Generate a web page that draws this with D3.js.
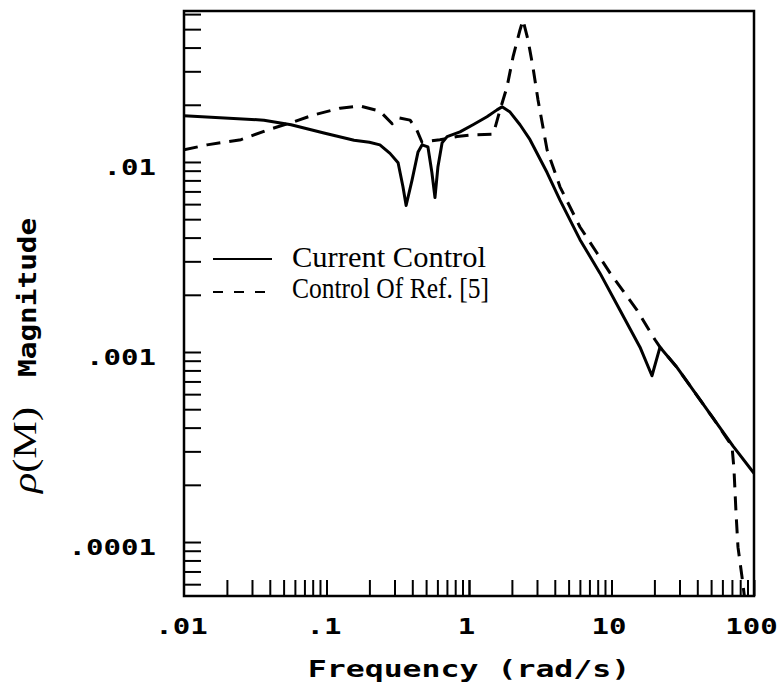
<!DOCTYPE html>
<html>
<head>
<meta charset="utf-8">
<script src="https://cdn.jsdelivr.net/npm/d3@7"></script>
<style>
  html, body { margin: 0; padding: 0; background: #fff; }
  svg { display: block; }
</style>
</head>
<body>
<svg id="chart" width="779" height="690"></svg>
<script>
// ---- data ----
const freqCurrent = [0.01, 0.0364, 0.0564, 0.0959, 0.156, 0.2, 0.237, 0.279, 0.318, 0.344, 0.362, 0.398, 0.439, 0.468, 0.515, 0.549, 0.577, 0.605, 0.647, 0.702, 0.865, 1.067, 1.337, 1.572, 1.705, 1.941, 2.28, 2.68, 3.53, 4.35, 6.01, 8.30, 11.48, 15.85, 19.23, 21.9, 28.8, 51.5, 71.3, 100];
const magCurrent  = [0.0175, 0.0166, 0.0157, 0.0142, 0.0130, 0.0127, 0.0123, 0.0111, 0.0099, 0.0074, 0.0059, 0.0080, 0.0113, 0.0123, 0.0120, 0.0088, 0.0065, 0.0094, 0.0126, 0.0136, 0.0144, 0.0157, 0.0173, 0.0188, 0.0195, 0.0183, 0.0157, 0.0131, 0.0088, 0.0063, 0.0039, 0.0026, 0.00166, 0.00106, 0.00075, 0.00106, 0.00083, 0.00045, 0.00032, 0.00023];

const freqRef = [0.01, 0.0145, 0.0251, 0.0382, 0.0592, 0.0816, 0.1245, 0.172, 0.237, 0.289, 0.318, 0.386, 0.431, 0.468, 0.625, 0.824, 1.067, 1.473, 1.522, 1.651, 1.848, 2.037, 2.28, 2.393, 2.594, 2.81, 3.05, 3.53, 4.35, 6.01, 7.91, 9.76, 15.1, 20.2, 21.9, 28.8, 51.5, 70.1, 72.4, 74.8, 77.2, 82.4, 89.3];
const magRef  = [0.0116, 0.0123, 0.0131, 0.0147, 0.0163, 0.0177, 0.0192, 0.0197, 0.0185, 0.0159, 0.0171, 0.0166, 0.0147, 0.0127, 0.0131, 0.0136, 0.0139, 0.0140, 0.0151, 0.0188, 0.0248, 0.0357, 0.0495, 0.0558, 0.0439, 0.0316, 0.0212, 0.0116, 0.0074, 0.00455, 0.00332, 0.00261, 0.00166, 0.00116, 0.00106, 0.00083, 0.00045, 0.00032, 0.00024, 0.000142, 0.000094, 0.0000655, 0.00004];

const seriesNames = ["Current Control", "Control Of Ref. [5]"];
const xTickValues = [0.01, 0.1, 1, 10, 100];
const xTickLabels = [".01", ".1", "1", "10", "100"];
const yTickValues = [0.01, 0.001, 0.0001];
const yTickLabels = [".01", ".001", ".0001"];
const xTitle = "Frequency (rad/s)";
const yTitleSymbol = "\u03C1(M)";
const yTitleWord = "Magnitude";

// ---- layout ----
const L = 184, R = 754, T = 11, B = 596;
const svg = d3.select("#chart");

const x = d3.scaleLog().domain([0.01, 100]).range([L, R]);
const y = d3.scaleLog().domain([5.2e-5, 0.0623]).range([B, T]);

// minor tick values
const xMinor = [];
for (let e = -2; e <= 1; e++) for (let k = 1; k <= 10; k++) {
  const v = k * Math.pow(10, e);
  if (v > 0.0100001 && v <= 100) xMinor.push(v);
}
const yMinor = [];
for (let e = -5; e <= -2; e++) for (let k = 1; k <= 9; k++) {
  const v = k * Math.pow(10, e);
  if (v >= y.domain()[0] && v <= y.domain()[1]) yMinor.push(v);
}

const monoFont = "'DejaVu Sans Mono', monospace";

// clip
svg.append("defs").append("clipPath").attr("id", "plotclip")
  .append("rect").attr("x", L).attr("y", T).attr("width", R - L).attr("height", B - T);

// ticks (inside)
const gx = svg.append("g").attr("transform", `translate(0,${B})`)
  .call(d3.axisBottom(x).tickValues(xMinor).tickSize(-16).tickFormat(""));
gx.select(".domain").remove();
gx.selectAll("line").attr("stroke", "#000").attr("stroke-width", 2);

const gy = svg.append("g").attr("transform", `translate(${L},0)`)
  .call(d3.axisLeft(y).tickValues(yMinor).tickSize(-17).tickFormat(""));
gy.select(".domain").remove();
gy.selectAll("line").attr("stroke", "#000").attr("stroke-width", 2);

// tick labels
const gxl = svg.append("g").attr("transform", `translate(0,${B})`)
  .call(d3.axisBottom(x).tickValues(xTickValues).tickSize(0).tickPadding(22)
    .tickFormat((d, i) => xTickLabels[i]));
gxl.select(".domain").remove();
gxl.selectAll("text")
  .attr("font-family", monoFont).attr("font-weight", "bold").attr("font-size", 22)
  .attr("fill", "#000")
  .attr("transform", "translate(-3,0) scale(1.32,1)");

const gyl = svg.append("g").attr("transform", `translate(${L},0)`)
  .call(d3.axisLeft(y).tickValues(yTickValues).tickSize(0)
    .tickFormat((d, i) => yTickLabels[i]));
gyl.select(".domain").remove();
gyl.selectAll("text")
  .attr("x", 0)
  .attr("font-family", monoFont).attr("font-weight", "bold").attr("font-size", 22)
  .attr("fill", "#000")
  .attr("transform", "translate(-28,5) scale(1.32,1)");

// frame
svg.append("rect").attr("x", L).attr("y", T).attr("width", R - L).attr("height", B - T)
  .attr("fill", "none").attr("stroke", "#000").attr("stroke-width", 2.5);

// curves
const line = d3.line().x(d => x(d[0])).y(d => y(d[1]));
const dataCurrent = freqCurrent.map((f, i) => [f, magCurrent[i]]);
const dataRef = freqRef.map((f, i) => [f, magRef[i]]);

const plot = svg.append("g").attr("clip-path", "url(#plotclip)");
plot.append("path").datum(dataRef).attr("d", line)
  .attr("fill", "none").attr("stroke", "#000").attr("stroke-width", 3)
  .attr("stroke-dasharray", "14,9").attr("stroke-linejoin", "round");
plot.append("path").datum(dataCurrent).attr("d", line)
  .attr("fill", "none").attr("stroke", "#000").attr("stroke-width", 3)
  .attr("stroke-linejoin", "round");

// legend
const lg = svg.append("g");
const legRows = [
  { name: seriesNames[0], dash: null, ly: 259, ty: 267, len: 194 },
  { name: seriesNames[1], dash: "10,11", ly: 292, ty: 298, len: 197 }
];
legRows.forEach(r => {
  lg.append("line").attr("x1", 213).attr("x2", 272).attr("y1", r.ly).attr("y2", r.ly)
    .attr("stroke", "#000").attr("stroke-width", 2)
    .attr("stroke-dasharray", r.dash);
  lg.append("text").attr("x", 292).attr("y", r.ty)
    .attr("font-family", "'Liberation Serif', serif").attr("font-size", 29)
    .attr("textLength", r.len).attr("lengthAdjust", "spacingAndGlyphs")
    .attr("fill", "#000").text(r.name);
});

// axis titles
svg.append("text")
  .attr("transform", `translate(${(L + R) / 2},677) scale(1.37,1)`)
  .attr("text-anchor", "middle")
  .attr("font-family", monoFont).attr("font-weight", "bold").attr("font-size", 23)
  .attr("fill", "#000").text(xTitle);

svg.append("text")
  .attr("transform", "translate(36,493) rotate(-90)")
  .attr("text-anchor", "start")
  .attr("font-family", "'Liberation Serif', serif").attr("font-size", 33)
  .attr("textLength", 86).attr("lengthAdjust", "spacingAndGlyphs")
  .attr("fill", "#000")
  .call(t => {
    t.append("tspan").attr("font-style", "italic").text(yTitleSymbol.charAt(0));
    t.append("tspan").text(yTitleSymbol.slice(1));
  });

svg.append("text")
  .attr("transform", "translate(36,377) rotate(-90) scale(1.2,1)")
  .attr("text-anchor", "start")
  .attr("font-family", monoFont).attr("font-weight", "bold").attr("font-size", 24.5)
  .attr("fill", "#000").text(yTitleWord);
</script>
</body>
</html>
